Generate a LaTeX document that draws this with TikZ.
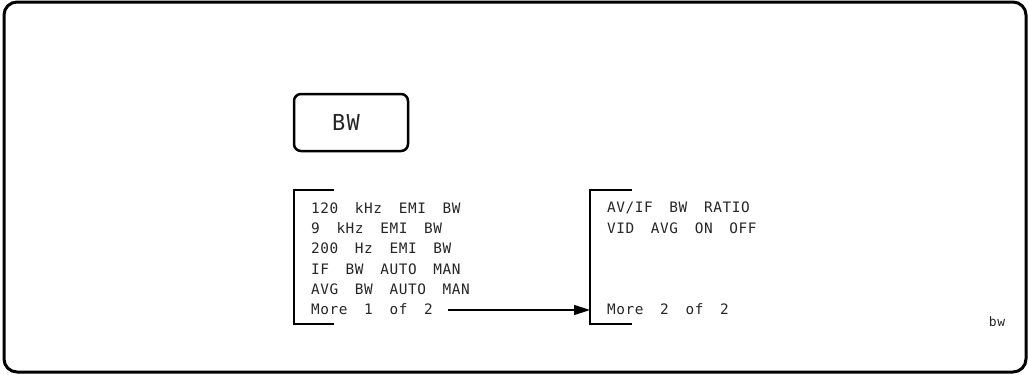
\documentclass[tikz,border=0pt]{standalone}
\usepackage{fontspec}
\newfontfamily\hp[LetterSpace=4,WordSpace=1.8]{DejaVu Sans Mono}
\newfontfamily\hpkey[LetterSpace=6]{DejaVu Sans Mono}
\usetikzlibrary{arrows.meta}
\tikzset{
  frame/.style={line width=3pt,rounded corners=13pt},
  keybox/.style={line width=2.5pt,rounded corners=7pt},
  bracket/.style={line width=2.5pt},
  menutext/.style={anchor=west,inner sep=0pt,text=black!85,font=\hp\fontsize{14.4}{16}\selectfont},
  conn/.style={line width=1.4pt,-{Triangle[length=16pt,width=10pt]}}
}
\begin{document}
\begin{tikzpicture}[x=1pt,y=-1pt]
\useasboundingbox (0,0) rectangle (1029,375);
\draw[frame] (4,2) rectangle (1026,372);
% hard key
\draw[keybox] (294,94) rectangle (408,151);
\node[inner sep=0pt,text=black!85,font=\hpkey\fontsize{22}{24}\selectfont] (bw) at (346,122) {BW};
% left menu
\draw[bracket] (334,190) -- (294,190) -- (294,324) -- (334,324);
\node[menutext] (l1) at (311,208) {120 kHz EMI BW};
\node[menutext] (l2) at (311,228) {9 kHz EMI BW};
\node[menutext] (l3) at (311,248) {200 Hz EMI BW};
\node[menutext] (l4) at (311,269) {IF BW AUTO MAN};
\node[menutext] (l5) at (311,289) {AVG BW AUTO MAN};
\node[menutext] (l6) at (311,309) {More 1 of 2};
% right menu
\draw[bracket] (632,190) -- (590,190) -- (590,324) -- (632,324);
\coordinate (rb) at (590,310);
\node[menutext] (r1) at (607,208) {AV/IF BW RATIO};
\node[menutext] (r2) at (607,228) {VID AVG ON OFF};
\node[menutext] (r6) at (607,309) {More 2 of 2};
% connector
\coordinate (as) at (448,310);
\draw[conn] (as) -- (rb);
% figure tag
\node[inner sep=0pt,text=black!85,font=\hp\fontsize{13}{15}\selectfont] (tag) at (997,322) {bw};
\end{tikzpicture}
\end{document}
